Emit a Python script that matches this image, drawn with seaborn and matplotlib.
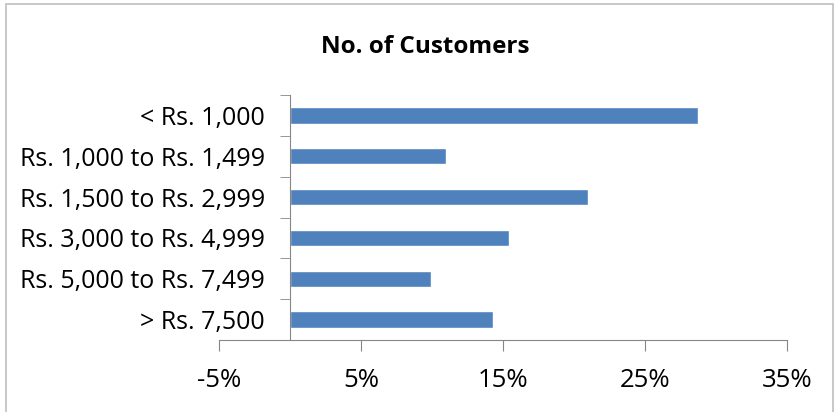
import matplotlib
matplotlib.use("Agg")
import matplotlib.pyplot as plt
import seaborn as sns
import pandas as pd
from matplotlib.patches import Rectangle
from matplotlib.ticker import FuncFormatter, FixedLocator

categories = ["< Rs. 1,000", "Rs. 1,000 to Rs. 1,499", "Rs. 1,500 to Rs. 2,999",
              "Rs. 3,000 to Rs. 4,999", "Rs. 5,000 to Rs. 7,499", "> Rs. 7,500"]
values = [28.7, 11.0, 21.0, 15.4, 9.9, 14.3]
x_ticks = [-5, 5, 15, 25, 35]
title = "No. of Customers"

sns.set_style("white")
plt.rcParams['font.family'] = ['Open Sans', 'DejaVu Sans']

df = pd.DataFrame({"cat": categories, "val": values})
fig = plt.figure(figsize=(8.35, 4.12), dpi=100)
ax = fig.add_axes([219/835, 1-340/412, (787-219)/835, (340-95)/412])
sns.barplot(data=df, x="val", y="cat", orient="h", color="#4F81BD", width=0.4,
            saturation=1, ax=ax)
ax.set_xlim(-5, 35)
ax.set_ylim(len(categories)-0.5, -0.5)
ax.set_xlabel("")
ax.set_ylabel("")
ax.xaxis.set_major_locator(FixedLocator(x_ticks))
ax.xaxis.set_major_formatter(FuncFormatter(lambda v, p: f"{v:.0f}%"))
gray = "#868686"
for s in ["top", "right"]:
    ax.spines[s].set_visible(False)
ax.spines["left"].set_position(("data", 0))
ax.spines["left"].set_color(gray)
ax.spines["bottom"].set_color(gray)
ax.tick_params(axis="x", direction="out", length=8, color=gray, labelsize=18.5, pad=12,
               bottom=True, labelcolor="black")
ax.tick_params(axis="y", which="major", length=0, labelsize=18, pad=18, labelcolor="black")
ax.set_yticks([i + 0.5 for i in range(-1, len(categories))], minor=True)
ax.tick_params(axis="y", which="minor", direction="out", length=7, color=gray, left=True)
ax.set_yticklabels(categories)
fig.text(425/835, 1-47/412, title, ha="center", va="center", fontsize=17.5,
         fontweight="bold", color="black")
fig.patches.append(Rectangle((6/835, -0.05), (833-6)/835, 1.05-4/412, transform=fig.transFigure,
                             fill=False, edgecolor="#BFBFBF", linewidth=1.2))
fig.savefig("out.png", dpi=100)
